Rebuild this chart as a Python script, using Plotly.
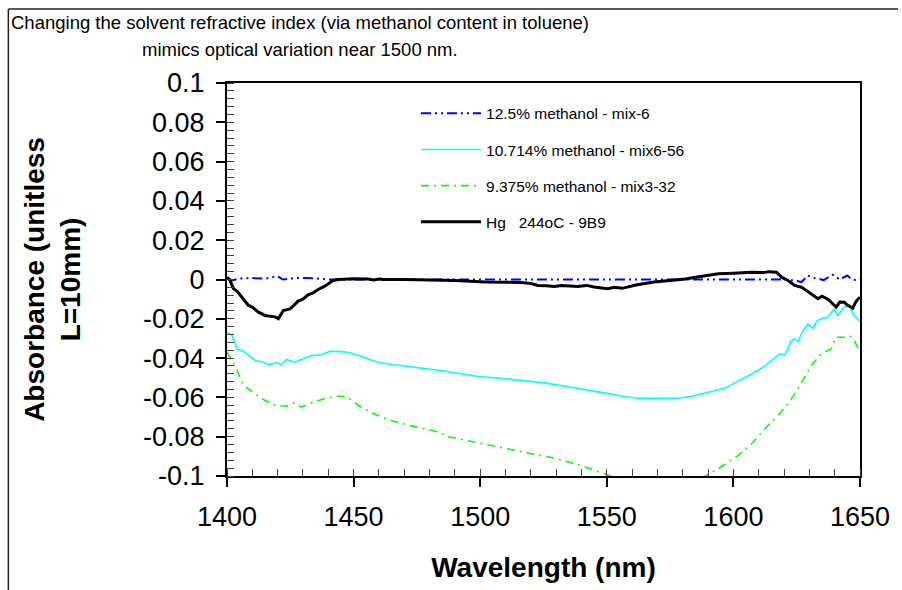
import plotly.graph_objects as go

# --- data: absorbance vs wavelength (nm) ---
mix6_nm = [1400, 1402, 1405, 1410, 1415, 1418, 1420, 1422, 1425, 1430, 1435, 1440, 1450,
           1500, 1550, 1600, 1620, 1624, 1626.9, 1629.4, 1632, 1635.7, 1639.2, 1642,
           1645, 1647, 1650]
mix6_abs = [0.0005, -0.0005, 0.0005, 0.0007, 0.0004, 0.001, 0.0017, 0.0, 0.0005, 0.0008,
            0.0006, 0.0, 0.0, 0.0, 0.0, 0.0, 0.0, -0.0005, -0.0013, 0.002, 0.0008,
            -0.0003, 0.0024, 0.0, 0.002, -0.0003, 0.0]

mix656_nm = [1400, 1402, 1404, 1406.5, 1409, 1411.1, 1414, 1416.4, 1419.6, 1421.6, 1423.5,
             1426.8, 1429.4, 1433.4, 1437.3, 1440.6, 1444.5, 1447.8, 1453, 1459.5, 1466,
             1472.6, 1479.2, 1484.4, 1490, 1499.3, 1508, 1516.3, 1525.5, 1535.9, 1542,
             1549, 1556.9, 1562, 1570, 1578.5, 1583, 1587.6, 1592, 1596.7, 1600, 1604.6,
             1609.8, 1613, 1615.1, 1618.3, 1620.3, 1622.9, 1624.2, 1625.5, 1627.5, 1629.4,
             1631.4, 1633, 1634.7, 1637.3, 1639.9, 1641.2, 1643.8, 1645.8, 1647.7, 1650]
mix656_abs = [-0.0268, -0.0285, -0.0353, -0.0366, -0.039, -0.0412, -0.042, -0.0433, -0.0424,
              -0.0434, -0.0407, -0.0421, -0.0407, -0.0387, -0.0383, -0.0365, -0.0367, -0.037,
              -0.039, -0.0421, -0.0434, -0.0443, -0.0455, -0.0463, -0.0475, -0.0494, -0.0503,
              -0.0514, -0.0526, -0.0548, -0.056, -0.0577, -0.0595, -0.0604, -0.0605, -0.0604,
              -0.0595, -0.0582, -0.057, -0.0553, -0.053, -0.0497, -0.0463, -0.0435, -0.0412,
              -0.0378, -0.0387, -0.031, -0.0302, -0.0317, -0.026, -0.0226, -0.025, -0.021,
              -0.02, -0.0192, -0.0149, -0.0183, -0.0141, -0.0132, -0.0183, -0.0214]

mix332_nm = [1400, 1400.7, 1402.6, 1404, 1406.5, 1410.5, 1414.4, 1419, 1423.5, 1426.2, 1429.4,
             1433.4, 1436, 1439.2, 1443.8, 1446, 1449, 1453, 1458.2, 1462.8, 1467.4, 1472,
             1477.2, 1483.6, 1487.5, 1492.7, 1500.6, 1511.1, 1520.2, 1529.4, 1539.8, 1549,
             1551.6, 1556, 1562, 1570, 1578, 1584, 1588.9, 1594.1, 1601.9, 1607.2, 1613.7,
             1617.7, 1621.6, 1625.5, 1630.8, 1634.7, 1638.6, 1640.6, 1643.8, 1645.8, 1647.7,
             1649.7]
mix332_abs = [-0.037, -0.0387, -0.043, -0.0463, -0.054, -0.0574, -0.0611, -0.0641, -0.0645,
              -0.0628, -0.065, -0.0628, -0.0616, -0.0604, -0.0594, -0.0594, -0.0612, -0.065,
              -0.0684, -0.0709, -0.0726, -0.0743, -0.0757, -0.0777, -0.08, -0.0814, -0.0836,
              -0.0862, -0.0887, -0.0909, -0.0947, -0.0989, -0.1, -0.102, -0.104, -0.105,
              -0.104, -0.102, -0.1, -0.0963, -0.0896, -0.0836, -0.0743, -0.0692, -0.0633,
              -0.0556, -0.0438, -0.0378, -0.0353, -0.0294, -0.0294, -0.0285, -0.031, -0.0361]

hg_nm = [1400, 1401, 1402.6, 1404, 1405.9, 1408.5, 1410, 1412.4, 1415, 1417.7, 1419, 1420.3,
         1422.2, 1424.9, 1428.1, 1430, 1432, 1434, 1436, 1438.6, 1441.9, 1444, 1446.4, 1450,
         1455.6, 1458, 1460, 1462, 1470, 1484.4, 1490, 1501.9, 1516.3, 1520, 1522.8, 1526,
         1529.4, 1532, 1535, 1538.5, 1542, 1545, 1550.3, 1553, 1556, 1559, 1562, 1568.6,
         1575, 1581, 1587, 1594.1, 1600, 1607.2, 1612, 1614, 1617, 1619, 1621.6, 1624.2,
         1627, 1630.8, 1633.4, 1635, 1637.3, 1640.6, 1642, 1643.8, 1645, 1647.1, 1648.5, 1650]
hg_abs = [0.001, 0.0, -0.0047, -0.006, -0.009, -0.0132, -0.014, -0.0166, -0.0183, -0.0187,
          -0.019, -0.02, -0.0158, -0.015, -0.011, -0.01, -0.0078, -0.0068, -0.0051, -0.0034,
          -0.0005, 0.0, 0.0003, 0.0004, 0.0003, -0.0002, 0.0003, 0.0, 0.0, -0.0005, -0.0005,
          -0.0013, -0.0015, -0.002, -0.003, -0.0032, -0.0036, -0.003, -0.0034, -0.0036,
          -0.003, -0.0038, -0.0047, -0.004, -0.0045, -0.0035, -0.0027, -0.0013, -0.0005,
          0.0003, 0.0015, 0.0029, 0.0032, 0.0037, 0.0035, 0.004, 0.0037, 0.0012, -0.0005,
          -0.003, -0.004, -0.0073, -0.0098, -0.0085, -0.01, -0.014, -0.0115, -0.0116, -0.013,
          -0.0146, -0.011, -0.009]

x_ticks = [1400, 1450, 1500, 1550, 1600, 1650]
y_ticks = [0.1, 0.08, 0.06, 0.04, 0.02, 0, -0.02, -0.04, -0.06, -0.08, -0.1]
y_tick_text = ["0.1", "0.08", "0.06", "0.04", "0.02", "0", "-0.02", "-0.04", "-0.06", "-0.08", "-0.1"]

title_lines = ["Changing the solvent refractive index (via methanol content in toluene)",
               "mimics optical variation near 1500 nm."]

FONT = "Arial, Liberation Sans, sans-serif"

fig = go.Figure()
fig.add_trace(go.Scatter(x=mix6_nm, y=mix6_abs, mode="lines", name="12.5% methanol - mix-6",
                         legendgroup="a",
                         line=dict(color="#0000FF", width=2, dash="10px,4px,2px,4px,2px,4px")))
fig.add_trace(go.Scatter(x=mix656_nm, y=mix656_abs, mode="lines", name="10.714% methanol - mix6-56",
                         legendgroup="b",
                         line=dict(color="#00FFFF", width=1.6)))
fig.add_trace(go.Scatter(x=mix332_nm, y=mix332_abs, mode="lines", name="9.375% methanol - mix3-32",
                         legendgroup="c",
                         line=dict(color="#00FF00", width=1.6, dash="8px,5px,2px,5px")))
fig.add_trace(go.Scatter(x=hg_nm, y=hg_abs, mode="lines", name="Hg   244oC - 9B9",
                         legendgroup="d",
                         line=dict(color="#000000", width=3)))

# outer frame (top and left edges)
fig.add_shape(type="line", xref="paper", yref="paper", x0=-0.3454, x1=1.06, y0=1.1883, y1=1.1883,
              line=dict(color="#222", width=1.5))
fig.add_shape(type="line", xref="paper", yref="paper", x0=-0.3454, x1=-0.3454, y0=1.1883, y1=-0.32,
              line=dict(color="#222", width=1.5))

# two-line heading, centred over the left part of the figure
for txt, yy in zip(title_lines, [1.1552, 1.084]):
    fig.add_annotation(text=txt, xref="paper", yref="paper", x=0.1146, y=yy,
                       xanchor="center", yanchor="middle", showarrow=False,
                       font=dict(size=18.5, family=FONT, color="black"))

fig.update_layout(
    width=902, height=590, autosize=False,
    margin=dict(l=227, r=38, t=83, b=114),
    paper_bgcolor="white", plot_bgcolor="white",
    font=dict(family=FONT, color="black"),
    showlegend=True,
    legend=dict(x=0.2986, y=0.965, xanchor="left", yanchor="top", bgcolor="rgba(0,0,0,0)",
                font=dict(size=15.5, family=FONT), tracegroupgap=13, itemwidth=60),
    xaxis=dict(range=[1400, 1650], tickvals=x_ticks, ticks="outside", ticklen=9, tickwidth=1.5,
               tickcolor="black", showline=True, linecolor="black", linewidth=2, mirror=True,
               showgrid=False, zeroline=False, tickfont=dict(size=27, family=FONT),
               ticklabelstandoff=7,
               minor=dict(dtick=10, ticks="inside", ticklen=7, tickcolor="#444", tickwidth=1),
               title=dict(text="<b>Wavelength (nm)</b>", font=dict(size=28, family=FONT), standoff=26)),
    yaxis=dict(range=[-0.1, 0.1], tickvals=y_ticks, ticktext=y_tick_text, ticks="outside",
               ticklen=9, tickwidth=1.5, tickcolor="black", showline=True, linecolor="black",
               linewidth=2, mirror=True, showgrid=False, zeroline=False,
               tickfont=dict(size=27, family=FONT), ticklabelstandoff=6,
               minor=dict(dtick=0.004, tick0=0, ticks="inside", ticklen=7, tickcolor="#444", tickwidth=1),
               title=dict(text="<b>Absorbance (unitless<br>L=10mm)</b>", font=dict(size=28, family=FONT),
                          standoff=54)),
)

fig.write_html("out.html")
